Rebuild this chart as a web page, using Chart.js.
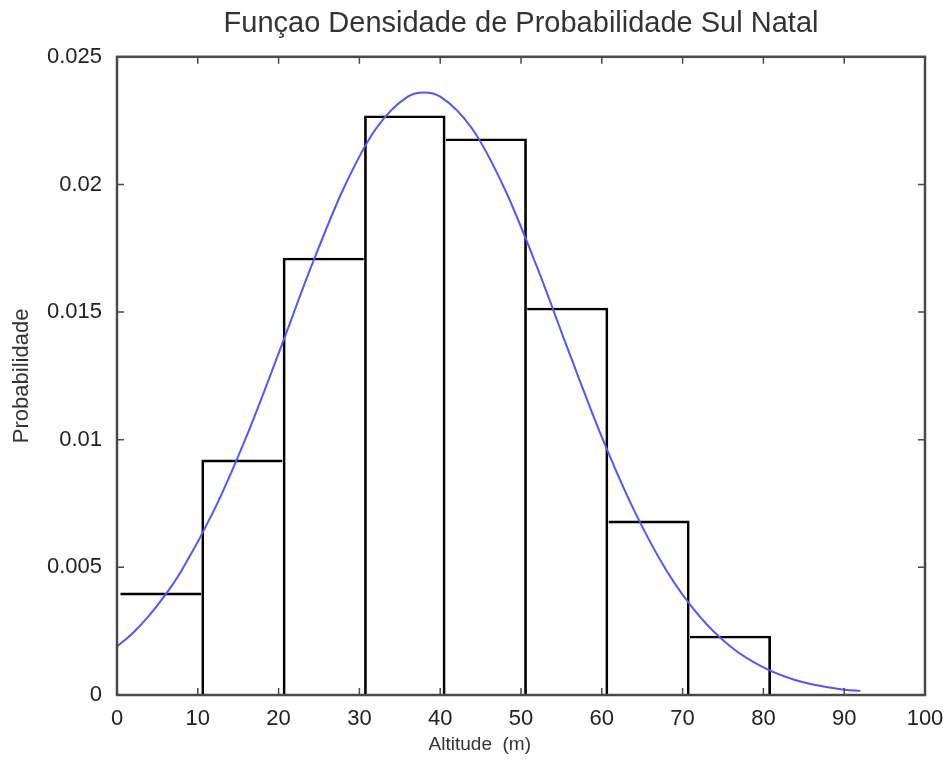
<!DOCTYPE html>
<html>
<head>
<meta charset="utf-8">
<script src="https://cdn.jsdelivr.net/npm/chart.js@4"></script>
<style>
html,body{margin:0;padding:0;background:#fff;}
</style>
</head>
<body>
<canvas id="chart" width="951" height="761"></canvas>
<script>
// histogram bins (centre of each bin, altitude in m) and bar heights
var binCenters = [5.41, 15.48, 25.55, 35.62, 45.69, 55.76, 65.83, 75.90];
var binHeights = [0.0040, 0.00921, 0.01712, 0.02269, 0.02179, 0.01516, 0.00682, 0.00231];

// fitted density curve
var curveX = [0, 2, 4, 6, 8, 12, 16, 20, 24, 28, 32, 36, 38, 40, 44, 48, 52, 56, 60, 64, 68, 72, 76, 80, 84, 88, 90, 92];
var curveY = [0.00190, 0.00244, 0.00312, 0.00393, 0.00488, 0.00723, 0.01011, 0.01338, 0.01675, 0.01981, 0.02216,
              0.02344, 0.02360, 0.02344, 0.02216, 0.01981, 0.01675, 0.01338, 0.01011, 0.00723, 0.00488, 0.00312,
              0.00188, 0.00108, 0.00058, 0.00030, 0.00021, 0.00016];

var titleText = 'Funçao Densidade de Probabilidade Sul Natal';
var xLabel = 'Altitude  (m)';
var yLabel = 'Probabilidade';

var FONT = "'Liberation Sans', Arial, Helvetica, sans-serif";

// matlab style box with inward ticks
var boxPlugin = {
	id: 'box',
	afterDraw: function (chart) {
		var ctx = chart.ctx, a = chart.chartArea;
		var xs = chart.scales.x, ys = chart.scales.y;
		var tl = 7;
		ctx.save();
		ctx.strokeStyle = '#4a4a4a';
		ctx.lineWidth = 1.5;
		ctx.beginPath();
		xs.ticks.forEach(function (t) {
			var px = xs.getPixelForValue(t.value);
			ctx.moveTo(px, a.bottom); ctx.lineTo(px, a.bottom - tl);
			ctx.moveTo(px, a.top); ctx.lineTo(px, a.top + tl);
		});
		ys.ticks.forEach(function (t) {
			var py = ys.getPixelForValue(t.value);
			ctx.moveTo(a.left, py); ctx.lineTo(a.left + tl, py);
			ctx.moveTo(a.right, py); ctx.lineTo(a.right - tl, py);
		});
		ctx.stroke();
		ctx.lineWidth = 2.5;
		ctx.strokeRect(a.left, a.top, a.right - a.left, a.bottom - a.top);

		// x axis label
		ctx.fillStyle = '#333';
		ctx.font = '19px ' + FONT;
		ctx.textAlign = 'center';
		ctx.textBaseline = 'middle';
		ctx.fillText(xLabel, a.left + (a.right - a.left) * 0.449, 745);
		ctx.restore();
	}
};

var lastBin = binCenters.length - 1;

// each bin edge gets one line, drawn by the taller of its two neighbours
function edgeWidths(c) {
	var i = c.dataIndex, h = binHeights;
	var left = (i > 0 && h[i] > h[i - 1]) ? 2 : 0;
	var right = (i === lastBin || h[i] >= h[i + 1]) ? 2 : 0;
	return {left: left, right: right, top: 2, bottom: 0};
}

var ctx = document.getElementById('chart').getContext('2d');
var chart = new Chart(ctx, {
	type: 'bar',
	data: {
		datasets: [{
			type: 'line',
			data: curveX.map(function (x, i) { return {x: x, y: curveY[i]}; }),
			borderColor: 'rgb(85,85,255)',
			borderWidth: 2,
			pointRadius: 0,
			fill: false,
			cubicInterpolationMode: 'monotone',
			order: 0
		}, {
			type: 'bar',
			data: binCenters.map(function (x, i) { return {x: x, y: binHeights[i]}; }),
			backgroundColor: 'rgba(0,0,0,0)',
			borderColor: '#000',
			borderWidth: edgeWidths,
			borderSkipped: 'start',
			barPercentage: 1,
			categoryPercentage: 1,
			order: 1
		}]
	},
	options: {
		responsive: false,
		animation: false,
		layout: {padding: {top: 0, right: 26, bottom: 0, left: 0}},
		plugins: {
			legend: {display: false},
			tooltip: {enabled: false},
			title: {
				display: true,
				text: titleText,
				fullSize: false,
				color: '#333',
				font: {family: FONT, size: 29, weight: 'normal'},
				padding: {top: 7, bottom: 15}
			}
		},
		scales: {
			x: {
				type: 'linear',
				min: 0, max: 100,
				offset: false,
				grid: {display: false},
				border: {display: false},
				ticks: {stepSize: 10, color: '#222', padding: 3, maxRotation: 0, font: {family: FONT, size: 22}},
				afterFit: function (s) { s.height = 66; }
			},
			y: {
				min: 0, max: 0.025,
				grid: {display: false},
				border: {display: false},
				ticks: {
					stepSize: 0.005, color: '#222', padding: 7, font: {family: FONT, size: 22},
					callback: function (v) { return String(+v.toFixed(3)); }
				},
				title: {display: true, text: yLabel, color: '#333', padding: {top: 9, bottom: 0}, font: {family: FONT, size: 22}},
				afterFit: function (s) { s.width = 117; }
			}
		}
	},
	plugins: [boxPlugin]
});
</script>
</body>
</html>
